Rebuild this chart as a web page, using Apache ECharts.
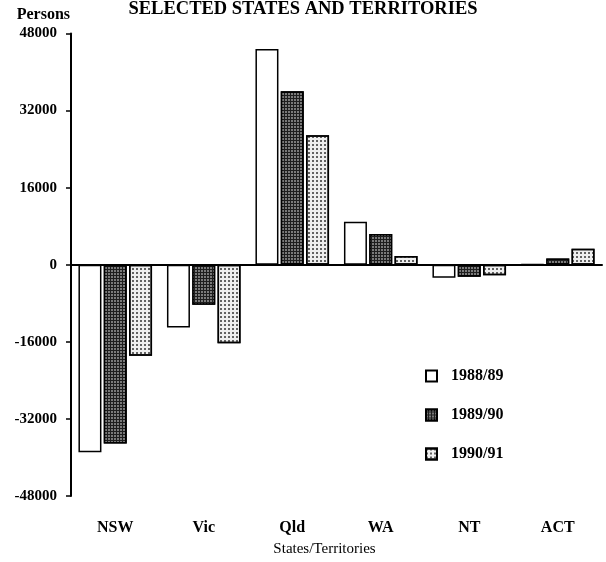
<!DOCTYPE html>
<html>
<head>
<meta charset="utf-8">
<script src="https://cdn.jsdelivr.net/npm/echarts@6/dist/echarts.min.js"></script>
<style>
html,body{margin:0;padding:0;background:#fff;}
#chart{width:606px;height:562px;}
</style>
</head>
<body>
<div id="chart"></div>
<script>
var categories = ['NSW', 'Vic', 'Qld', 'WA', 'NT', 'ACT'];
var seriesNames = ['1988/89', '1989/90', '1990/91'];
var values8889 = [-38900, -13000, 44800, 8900, -2700, 100];
var values8990 = [-37100, -8300, 36000, 6400, -2500, 1300];
var values9091 = [-18900, -16300, 26900, 1800, -2200, 3300];
var yMin = -48000, yMax = 48000, yStep = 16000;

var serif = '"Liberation Serif", "DejaVu Serif", serif';
var chart = echarts.init(document.getElementById('chart'), null, {renderer: 'canvas'});

var border = {borderColor: '#000', borderWidth: 1.5};
var option = {
  backgroundColor: '#fff',
  animation: false,
  title: {
    text: 'SELECTED STATES AND TERRITORIES',
    left: 'center',
    top: -5,
    textStyle: {fontFamily: serif, fontWeight: 'bold', fontSize: 18.5, color: '#000'}
  },
  legend: {
    orient: 'vertical',
    left: 425,
    top: 368,
    padding: 0,
    itemWidth: 11,
    itemHeight: 11,
    itemGap: 23,
    icon: 'rect',
    data: seriesNames,
    textStyle: {fontFamily: serif, fontWeight: 'bold', fontSize: 16, color: '#000', padding: [0, 0, 0, 9]}
  },
  grid: {left: 71, right: 4, top: 33.5, bottom: 64, containLabel: false},
  xAxis: [
    {
      type: 'category',
      data: categories,
      position: 'top',
      axisLine: {onZero: true, lineStyle: {color: '#000', width: 2}},
      axisTick: {show: false},
      axisLabel: {show: false},
      splitLine: {show: false}
    },
    {
      type: 'category',
      data: categories,
      position: 'bottom',
      axisLine: {show: false, onZero: false},
      axisTick: {show: false},
      axisLabel: {margin: 24, fontFamily: serif, fontWeight: 'bold', fontSize: 16, color: '#000'},
      name: 'States/Territories',
      nameLocation: 'middle',
      nameGap: 46,
      nameTextStyle: {fontFamily: serif, fontSize: 15, color: '#000', padding: [0, 24, 0, 0]}
    }
  ],
  yAxis: {
    type: 'value',
    min: yMin,
    max: yMax,
    interval: yStep,
    name: 'Persons',
    nameLocation: 'end',
    nameGap: 11,
    nameTextStyle: {fontFamily: serif, fontWeight: 'bold', fontSize: 16, color: '#000', align: 'right', verticalAlign: 'bottom', padding: [0, 1, 0, 0]},
    axisLine: {show: true, onZero: false, lineStyle: {color: '#000', width: 2}},
    axisTick: {show: true, length: 5, lineStyle: {color: '#000', width: 1.5}},
    axisLabel: {
      margin: 14, fontFamily: serif, fontWeight: 'bold', fontSize: 15, color: '#000',
      formatter: function (v) { return String(v); }
    },
    splitLine: {show: false}
  },
  series: [
    {
      name: seriesNames[0], type: 'bar', xAxisIndex: 0, data: values8889,
      barWidth: 23, barGap: '10%',
      itemStyle: Object.assign({color: '#fff'}, border)
    },
    {
      name: seriesNames[1], type: 'bar', xAxisIndex: 0, data: values8990,
      barWidth: 23, barGap: '10%',
      itemStyle: Object.assign({
        color: '#1e1e1e',
        decal: {symbol: 'circle', symbolSize: 1, color: '#9a9a9a', dashArrayX: [2, 1], dashArrayY: [2, 1]}
      }, border)
    },
    {
      name: seriesNames[2], type: 'bar', xAxisIndex: 0, data: values9091,
      barWidth: 23, barGap: '10%',
      itemStyle: Object.assign({
        color: '#efefef',
        decal: {symbol: 'circle', symbolSize: 1, color: '#333', dashArrayX: [2, 2], dashArrayY: [2, 2]}
      }, border)
    }
  ]
};
chart.setOption(option);
</script>
</body>
</html>
